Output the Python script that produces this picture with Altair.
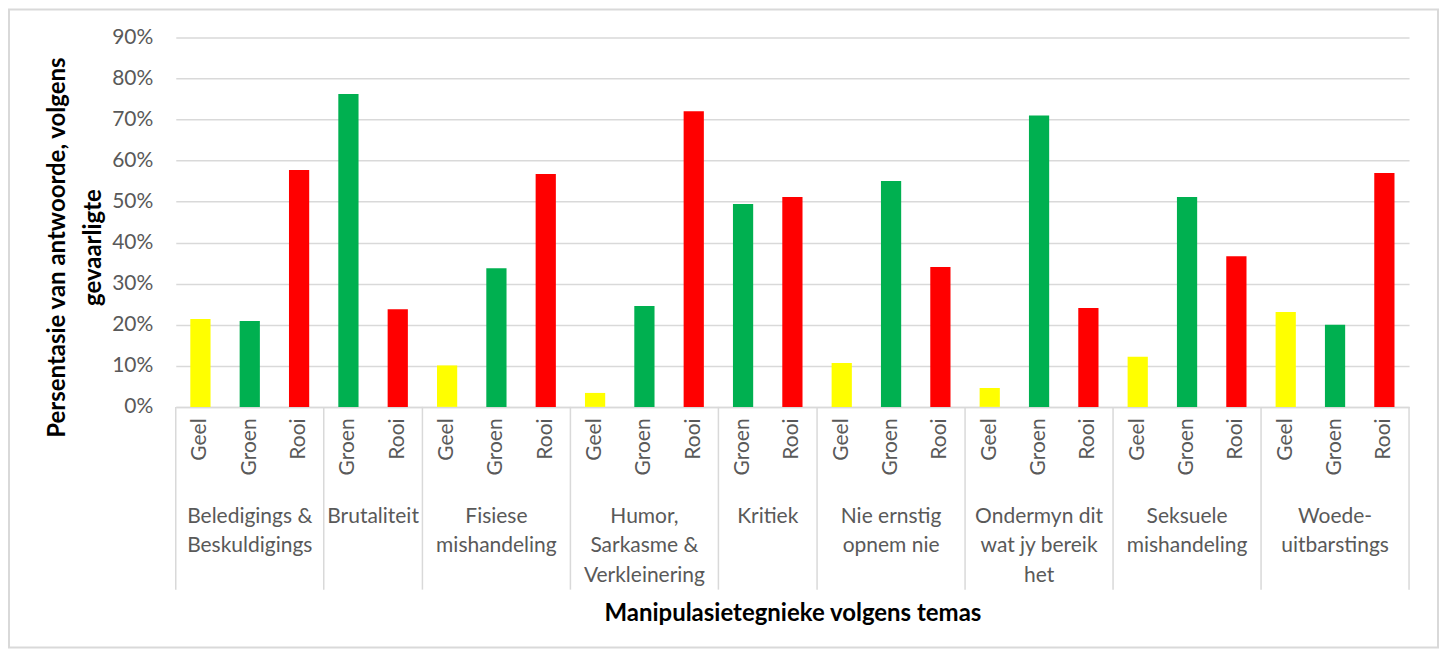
import altair as alt
import pandas as pd

# ---------------- data ----------------
group_names = ["Beledigings & Beskuldigings", "Brutaliteit", "Fisiese mishandeling",
               "Humor, Sarkasme & Verkleinering", "Kritiek", "Nie ernstig opnem nie",
               "Ondermyn dit wat jy bereik het", "Seksuele mishandeling", "Woede-uitbarstings"]
group_labels = ["Beledigings &\nBeskuldigings", "Brutaliteit", "Fisiese\nmishandeling",
                "Humor,\nSarkasme &\nVerkleinering", "Kritiek", "Nie ernstig\nopnem nie",
                "Ondermyn dit\nwat jy bereik\nhet", "Seksuele\nmishandeling", "Woede-\nuitbarstings"]
series = ["Geel", "Groen", "Rooi"]
colors = ["#FFFF00", "#00B050", "#FF0000"]
geel = [21.4, None, 10.1, 3.4, None, 10.7, 4.6, 12.2, 23.1]
groen = [20.9, 76.2, 33.8, 24.6, 49.4, 55.0, 71.0, 51.1, 20.0]
rooi = [57.7, 23.8, 56.7, 72.0, 51.1, 34.1, 24.1, 36.7, 57.0]
y_ticks = [0, 0.1, 0.2, 0.3, 0.4, 0.5, 0.6, 0.7, 0.8, 0.9]

# ---------------- build tables ----------------
rows, keys, seps, lab_rows = [], [], [], []
for gi, g in enumerate(group_names):
    gkeys = []
    for s, vals in zip(series, [geel, groen, rooi]):
        v = vals[gi]
        if v is None:
            continue
        k = f"{g}|{s}"
        gkeys.append(k)
        rows.append({"key": k, "group": g, "series": s, "value": v / 100})
    keys.extend(gkeys)
    seps.append({"key": gkeys[0]})
    lab_rows.append({"key": gkeys[len(gkeys) // 2] if len(gkeys) == 3 else gkeys[0],
                     "label": group_labels[gi], "n": len(gkeys)})

df = pd.DataFrame(rows)
df_sep = pd.DataFrame(seps)
df_lab = pd.DataFrame(lab_rows)
df_end = pd.DataFrame([{"key": keys[-1]}])

W, H = 1235, 370
FONT = "Lato"
GRAY = "#595959"
LINE = "#D9D9D9"
FS = 21

xscale = alt.Scale(domain=keys, paddingInner=0, paddingOuter=0)

bars = alt.Chart(df).mark_bar(width=alt.RelativeBandSize(0.41)).encode(
    x=alt.X("key:N", scale=xscale, sort=keys,
            axis=alt.Axis(title="Manipulasietegnieke volgens temas",
                          labelExpr="split(datum.label, '|')[1]",
                          labelAngle=270, labelPadding=11, labelFontSize=FS,
                          labelColor=GRAY, labelFont=FONT, ticks=False,
                          domainColor=LINE, domainWidth=1.5,
                          titleFont=FONT, titleFontSize=24, titleFontWeight="bold",
                          titleColor="#000000", titleY=207, titleBaseline="middle")),
    y=alt.Y("value:Q", scale=alt.Scale(domain=[0, 0.9], nice=False),
            axis=alt.Axis(title=["Persentasie van antwoorde, volgens", "gevaarligte"],
                          values=y_ticks, format=".0%", labelFontSize=FS,
                          labelColor=GRAY, labelFont=FONT, labelPadding=23,
                          ticks=False, domain=False, gridColor=LINE, gridWidth=1.5,
                          titleFont=FONT, titleFontSize=24, titleFontWeight="bold",
                          titleColor="#000000", titleX=-106, titleY=210,
                          titleLineHeight=36)),
    color=alt.Color("series:N", scale=alt.Scale(domain=series, range=colors), legend=None),
)

sep = alt.Chart(df_sep).mark_rule(color=LINE, strokeWidth=1.5).encode(
    x=alt.X("key:N", scale=xscale, sort=keys, bandPosition=0),
    y=alt.value(H), y2=alt.value(H + 183),
)
sep_end = alt.Chart(df_end).mark_rule(color=LINE, strokeWidth=1.5).encode(
    x=alt.X("key:N", scale=xscale, sort=keys, bandPosition=1),
    y=alt.value(H), y2=alt.value(H + 183),
)

lab_style = dict(font=FONT, fontSize=FS, color=GRAY, lineBreak="\n",
                 lineHeight=29.5, baseline="top", align="center")
lab3 = alt.Chart(df_lab[df_lab["n"] == 3]).mark_text(**lab_style).encode(
    x=alt.X("key:N", scale=xscale, sort=keys, bandPosition=0.5),
    y=alt.value(H + 99), text="label:N",
)
lab2 = alt.Chart(df_lab[df_lab["n"] == 2]).mark_text(**lab_style).encode(
    x=alt.X("key:N", scale=xscale, sort=keys, bandPosition=1),
    y=alt.value(H + 99), text="label:N",
)

border = alt.Chart(alt.Data(values=[{}])).mark_rect(
    fillOpacity=0, stroke=LINE, strokeWidth=2).encode(
    x=alt.value(-167), x2=alt.value(W + 29), y=alt.value(-28), y2=alt.value(H + 241),
)

chart = alt.layer(bars, sep, sep_end, lab3, lab2, border).properties(
    width=W, height=H,
    autosize=alt.AutoSizeParams(type="none"),
    padding={"left": 168, "top": 29, "right": 31, "bottom": 243},
).configure_view(stroke=None)

chart.save("out.html", embed_options={"renderer": "svg", "actions": False})
